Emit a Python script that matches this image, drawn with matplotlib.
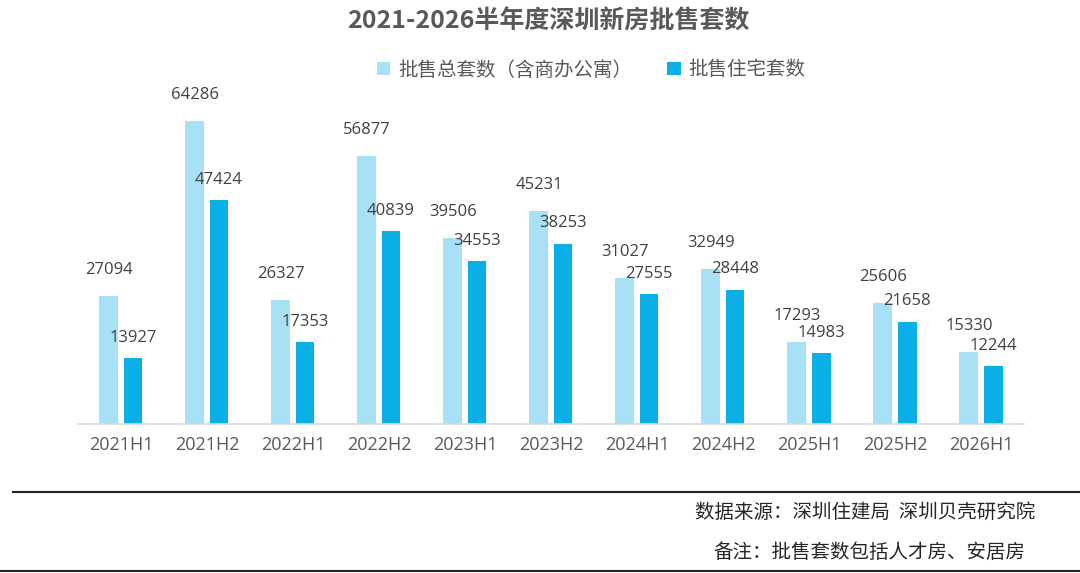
import matplotlib
matplotlib.use("Agg")
import matplotlib.pyplot as plt
import numpy as np

plt.rcParams['font.family'] = ['Noto Sans CJK SC', 'DejaVu Sans']

categories = ["2021H1", "2021H2", "2022H1", "2022H2", "2023H1", "2023H2",
              "2024H1", "2024H2", "2025H1", "2025H2", "2026H1"]
total_units = [27094, 64286, 26327, 56877, 39506, 45231, 31027, 32949, 17293, 25606, 15330]
residential_units = [13927, 47424, 17353, 40839, 34553, 38253, 27555, 28448, 14983, 21658, 12244]
series_names = ["批售总套数（含商办公寓）", "批售住宅套数"]
title = "2021-2026半年度深圳新房批售套数"
source_text = "数据来源：深圳住建局  深圳贝壳研究院"
note_text = "备注：批售套数包括人才房、安居房"

light = "#A8E0F6"
dark = "#0AAFE6"
text_gray = "#595959"
label_gray = "#404040"

fig = plt.figure(figsize=(10.8, 5.73), dpi=100)
fig.patch.set_facecolor("white")
ax = fig.add_axes([78/1080, 1 - 424/573, 946/1080, 330/573])

x = np.arange(len(categories))
w = 0.22
off = 0.14
b1 = ax.bar(x - off, total_units, w, color=light, label=series_names[0])
b2 = ax.bar(x + off, residential_units, w, color=dark, label=series_names[1])

for rect, v in zip(b1, total_units):
    ax.annotate(str(v), (rect.get_x() + rect.get_width()/2, v), xytext=(0, 13),
                textcoords="offset points", ha="center", va="bottom",
                fontsize=12, color=label_gray, family=["Open Sans", "DejaVu Sans"])
for rect, v in zip(b2, residential_units):
    ax.annotate(str(v), (rect.get_x() + rect.get_width()/2, v), xytext=(0, 9),
                textcoords="offset points", ha="center", va="bottom",
                fontsize=12, color=label_gray, family=["Open Sans", "DejaVu Sans"])

ax.set_xlim(-0.5, len(categories) - 0.5)
ax.set_ylim(0, 70000)
ax.set_xticks(x)
ax.set_xticklabels(categories, fontsize=13, color=text_gray, family=["Open Sans", "DejaVu Sans"])
ax.tick_params(axis="x", length=0, pad=9)
ax.set_yticks([])
for s in ["top", "right", "left"]:
    ax.spines[s].set_visible(False)
ax.spines["bottom"].set_color("#D9D9D9")
ax.spines["bottom"].set_linewidth(1.2)

fig.text(548/1080, 1 - 22/573, title, ha="center", va="center",
         fontsize=18, fontweight="bold", color=text_gray)

fig.legend(handles=[b1, b2], labels=series_names, loc="center",
           bbox_to_anchor=(591/1080, 1 - 70/573), ncol=2, frameon=False,
           fontsize=14, handlelength=0.7, handleheight=0.7, handletextpad=0.4,
           columnspacing=1.8, labelcolor=text_gray)

fig.add_artist(plt.Line2D([13/1080, 1.0], [1 - 492/573, 1 - 492/573],
                          transform=fig.transFigure, color="#222222", lw=1.5))
fig.add_artist(plt.Line2D([0.0, 1.0], [1 - 571/573, 1 - 571/573],
                          transform=fig.transFigure, color="#222222", lw=1.5))

fig.text(865/1080, 1 - 512/573, source_text, ha="center", va="center",
         fontsize=14, color="#262626")
fig.text(869/1080, 1 - 552/573, note_text, ha="center", va="center",
         fontsize=14, color="#262626")

fig.savefig("out.png", dpi=100, facecolor="white")
